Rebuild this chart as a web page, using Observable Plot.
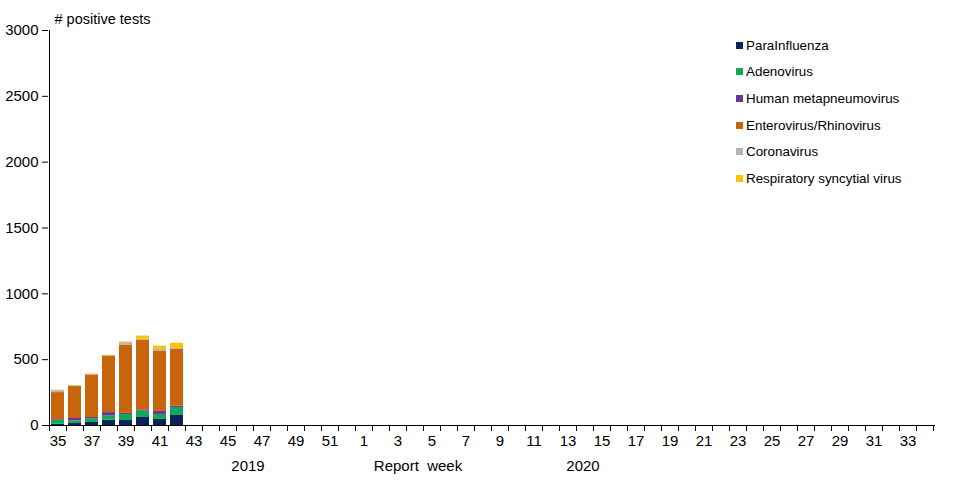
<!DOCTYPE html>
<html>
<head>
<meta charset="utf-8">
<script src="https://cdn.jsdelivr.net/npm/d3@7"></script>
<script src="https://cdn.jsdelivr.net/npm/@observablehq/plot@0.6"></script>
<style>
  html, body { margin: 0; padding: 0; background: #fff; }
  #wrap { position: relative; width: 956px; height: 500px; font-family: "Liberation Sans", Arial, sans-serif; }
  #legend { position: absolute; left: 736px; top: 32px; }
  .row { height: 26.6px; display: flex; align-items: center; font-size: 13.4px; color: #000; }
  .sw { width: 7px; height: 7px; margin-right: 3px; }
</style>
</head>
<body>
<div id="wrap"><div id="legend"></div></div>
<script>
const weeks = ["35","36","37","38","39","40","41","42","43","44","45","46","47","48","49","50","51","52",
  "1","2","3","4","5","6","7","8","9","10","11","12","13","14","15","16","17","18","19","20","21","22","23","24","25","26","27","28","29","30","31","32","33","34"];
const labelWeeks = ["35","37","39","41","43","45","47","49","51","1","3","5","7","9","11","13","15","17","19","21","23","25","27","29","31","33"];
const dataWeeks = ["35","36","37","38","39","40","41","42"];
const seriesNames = ["ParaInfluenza","Adenovirus","Human metapneumovirus","Enterovirus/Rhinovirus","Coronavirus","Respiratory syncytial virus"];
const seriesColors = ["#0a2459","#12a85a","#7030a0","#c8650a","#b4b4b4","#ffc000"];
const paraInfluenza = [10, 15, 23, 40, 38, 61, 46, 76];
const adenovirus    = [30, 20, 28, 35, 46, 48, 38, 61];
const hmpv          = [5, 18, 10, 23, 8, 10, 23, 10];
const enteroRhino   = [205, 243, 322, 428, 519, 527, 458, 431];
const coronavirus   = [15, 5, 5, 5, 18, 8, 13, 8];
const rsv           = [3, 3, 3, 3, 5, 25, 25, 38];
const yTicks = [0, 500, 1000, 1500, 2000, 2500, 3000];
const bottomLabels = [
  {week: "46", label: "2019"},
  {week: "4", label: "Report\u00a0 week"}
];
const bottomLabels2 = [
  {week: "14", label: "2020"}
];

const seriesValues = [paraInfluenza, adenovirus, hmpv, enteroRhino, coronavirus, rsv];
const rows = [];
seriesNames.forEach((name, i) => {
  dataWeeks.forEach((w, j) => rows.push({week: w, virus: name, value: seriesValues[i][j]}));
});

const W = 956, H = 500, mL = 48, mR = 21, mT = 30, mB = 75;
const step = (W - mL - mR) / weeks.length;

const chart = Plot.plot({
  width: W, height: H,
  marginLeft: mL, marginRight: mR, marginTop: mT, marginBottom: mB,
  style: {fontFamily: "'Liberation Sans', Arial, sans-serif", fontSize: "15px", color: "#000", background: "#fff"},
  x: {domain: weeks, paddingInner: 0.22, paddingOuter: 0.11},
  y: {domain: [0, 3000]},
  color: {domain: seriesNames, range: seriesColors},
  marks: [
    Plot.barY(rows, {x: "week", y: "value", fill: "virus"}),
    Plot.ruleY([0], {stroke: "#000"}),
    Plot.ruleX([weeks[0]], {stroke: "#000", dx: -step / 2}),
    Plot.axisY({ticks: yTicks, tickSize: 6, tickPadding: 4, tickFormat: d => String(d), label: null, fontSize: 15, stroke: "#000"}),
    Plot.axisX({ticks: weeks, tickSize: 6, tickFormat: () => "", label: null, dx: -step / 2, stroke: "#000"}),
    Plot.axisX({ticks: [weeks[weeks.length - 1]], tickSize: 6, tickFormat: () => "", label: null, dx: step / 2, stroke: "#000"}),
    Plot.axisX({ticks: labelWeeks, tickSize: 0, tickPadding: 10, label: null, fontSize: 15}),
    Plot.text(bottomLabels, {x: "week", text: "label", frameAnchor: "bottom", dy: 45, dx: 3, fontSize: 15, fill: "#000"}),
    Plot.text(bottomLabels2, {x: "week", text: "label", frameAnchor: "bottom", dy: 45, dx: -2, fontSize: 15, fill: "#000"}),
    Plot.text(["# positive tests"], {frameAnchor: "top-left", dx: 6, dy: -17, textAnchor: "start", fontSize: 14.5, fill: "#000"})
  ]
});
document.getElementById("wrap").prepend(chart);

const legend = document.getElementById("legend");
seriesNames.forEach((name, i) => {
  const row = document.createElement("div");
  row.className = "row";
  row.innerHTML = `<span class="sw" style="background:${seriesColors[i]}"></span><span>${name}</span>`;
  legend.appendChild(row);
});
</script>
</body>
</html>
